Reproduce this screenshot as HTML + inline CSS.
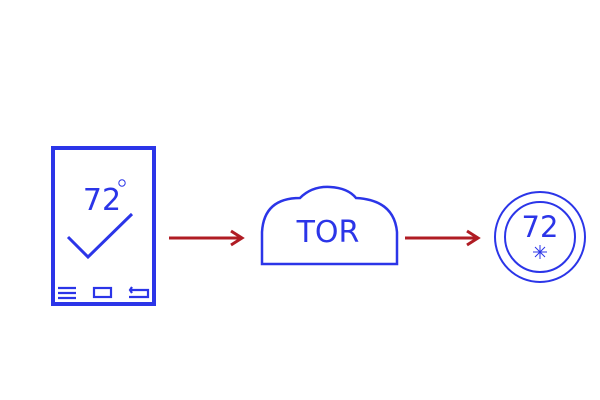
<!DOCTYPE html>
<html><head><style>body{margin:0;background:#fff}svg{display:block}</style></head><body>
<svg width="600" height="400" xmlns="http://www.w3.org/2000/svg" font-family="Liberation Sans, DejaVu Sans, sans-serif">
<rect x="53" y="148" width="101" height="156" fill="none" stroke="#2b35e8" stroke-width="4"/>
<text x="102" y="210" font-size="30" fill="#2b35e8" text-anchor="middle" font-family="DejaVu Sans, sans-serif">72</text>
<circle cx="122" cy="183" r="3.2" fill="none" stroke="#2b35e8" stroke-width="1"/>
<polyline points="68,237 88,257 132,214" fill="none" stroke="#2b35e8" stroke-width="3"/>
<g stroke="#2b35e8" stroke-width="2.2" fill="none">
<line x1="58" y1="288" x2="76" y2="288"/><line x1="58" y1="293" x2="76" y2="293"/><line x1="58" y1="298" x2="76" y2="298"/>
<rect x="94" y="288" width="17" height="9"/>
<polyline points="131,290 148,290 148,297 129,297"/>
<polyline points="132,287 130,290 132,293"/>
</g>
<path d="M262,264 L262,232 Q264,198 300,198 Q312,186 330,187 Q348,188 356,198 Q394,200 397,232 L397,264 Z" fill="none" stroke="#2b35e8" stroke-width="2.5"/>
<text x="328" y="242" font-size="30" fill="#2b35e8" text-anchor="middle" font-family="DejaVu Sans, sans-serif">TOR</text>
<g stroke="#b01c24" stroke-width="3" fill="none">
<line x1="169" y1="238" x2="242" y2="238"/><polyline points="231,231 242,238 231,245"/>
<line x1="405" y1="238" x2="478" y2="238"/><polyline points="467,231 478,238 467,245"/>
</g>
<circle cx="540" cy="237" r="45" fill="none" stroke="#2b35e8" stroke-width="2"/>
<circle cx="540" cy="237" r="35" fill="none" stroke="#2b35e8" stroke-width="2"/>
<text x="540" y="237" font-size="29" fill="#2b35e8" text-anchor="middle" font-family="DejaVu Sans, sans-serif">72</text>
<g stroke="#2b35e8" stroke-width="1">
<line x1="540" y1="245" x2="540" y2="259"/><line x1="533" y1="252" x2="547" y2="252"/>
<line x1="535" y1="247" x2="545" y2="257"/><line x1="545" y1="247" x2="535" y2="257"/>
</g>
</svg>
</body></html>
